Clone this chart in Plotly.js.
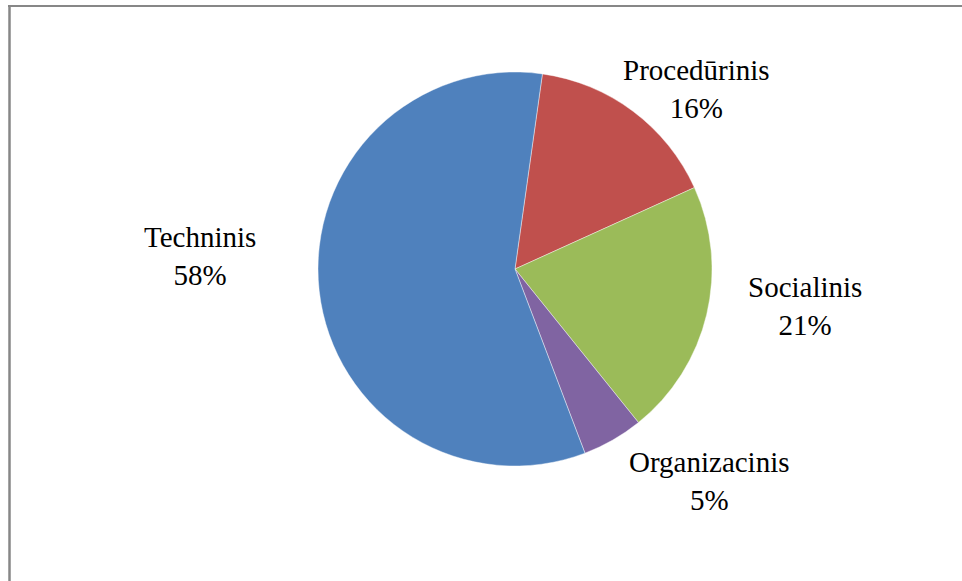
<!DOCTYPE html>
<html>
<head>
<meta charset="utf-8">
<script src="https://cdn.plot.ly/plotly-3.0.1.min.js"></script>
<style>
html,body{margin:0;padding:0;background:#fff;}
#chart{width:962px;height:581px;}
</style>
</head>
<body>
<div id="chart"></div>
<script>
// Data
var categories = ["Procedūrinis", "Socialinis", "Organizacinis", "Techninis"];
var values = [16, 21, 5, 58];
var colors = ["#C0504D", "#9BBB59", "#8064A2", "#4F81BD"];

// Label block centres (layout, pixel coordinates)
var labelPosPx = [[696, 89], [805, 306], [709, 481], [200, 256]];

var W = 962, H = 581;
var cx = 515, cy = 269, r = 197;

var total = values.reduce(function(a, b){ return a + b; }, 0);

var annotations = categories.map(function(c, i){
  var pct = Math.round(values[i] / total * 100);
  return {
    xref: "paper", yref: "paper",
    x: labelPosPx[i][0] / W, y: 1 - labelPosPx[i][1] / H,
    xanchor: "center", yanchor: "middle",
    text: c + "<br>" + pct + "%",
    showarrow: false,
    align: "center",
    font: {family: "Liberation Serif", size: 29, color: "#000"}
  };
});

var trace = {
  type: "pie",
  labels: categories,
  values: values,
  sort: false,
  direction: "clockwise",
  rotation: 8,
  marker: {colors: colors, line: {color: "rgba(255,255,255,0.6)", width: 0.7}},
  textinfo: "none",
  hoverinfo: "label+percent",
  showlegend: false,
  domain: {
    x: [(cx - r) / W, (cx + r) / W],
    y: [(H - cy - r) / H, (H - cy + r) / H]
  }
};

var layout = {
  width: W, height: H,
  margin: {l: 0, r: 0, t: 0, b: 0},
  paper_bgcolor: "#fff",
  font: {family: "Liberation Serif"},
  showlegend: false,
  annotations: annotations,
  shapes: [
    {type: "line", xref: "paper", yref: "paper", x0: 8 / W, x1: 1, y0: 1 - 6 / H, y1: 1 - 6 / H,
     line: {color: "#878787", width: 2}},
    {type: "line", xref: "paper", yref: "paper", x0: 9.5 / W, x1: 9.5 / W, y0: 0, y1: 1 - 5 / H,
     line: {color: "#878787", width: 2.5}}
  ]
};

Plotly.newPlot("chart", [trace], layout, {displayModeBar: false, staticPlot: true});
</script>
</body>
</html>
